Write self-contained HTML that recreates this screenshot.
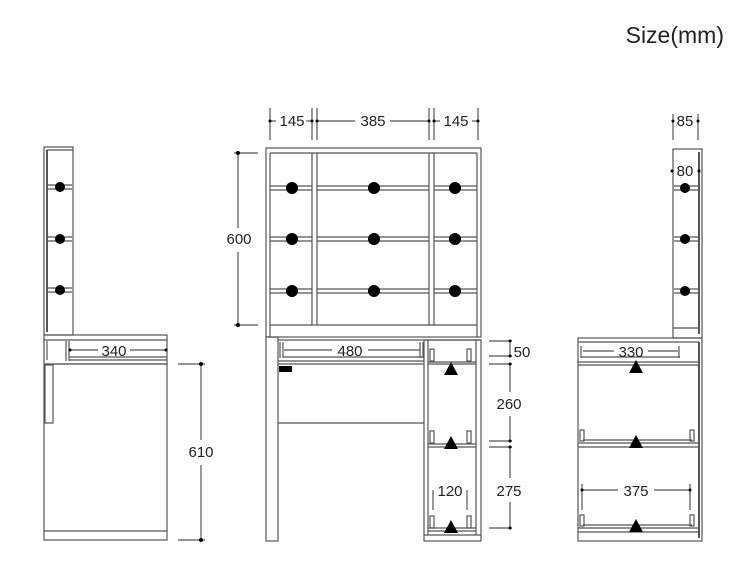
<!DOCTYPE html>
<html><head><meta charset="utf-8"><style>
html,body{margin:0;padding:0;background:#fff;}
svg{display:block;}
text{font-family:"Liberation Sans",Arial,sans-serif;fill:#222;}
</style></head><body>
<svg width="750" height="562" viewBox="0 0 750 562" xmlns="http://www.w3.org/2000/svg">
<text x="724" y="43" font-size="23" text-anchor="end">Size(mm)</text>
<g fill="none" stroke="#555" stroke-width="1.2">
<!-- LEFT SIDE VIEW -->
<rect x="44" y="147" width="29" height="188"/>
<line x1="47" y1="150" x2="47" y2="332" stroke-width="2"/>
<line x1="47" y1="150" x2="73" y2="150"/>
<line x1="48" y1="185" x2="72" y2="185"/><line x1="48" y1="189" x2="72" y2="189"/>
<line x1="48" y1="237" x2="72" y2="237"/><line x1="48" y1="241" x2="72" y2="241"/>
<line x1="48" y1="288" x2="72" y2="288"/><line x1="48" y1="292" x2="72" y2="292"/>
<rect x="44" y="335" width="123" height="29"/>
<line x1="44" y1="340" x2="167" y2="340"/>
<line x1="47" y1="341" x2="47" y2="360"/>
<line x1="66" y1="341" x2="66" y2="361"/><line x1="69" y1="341" x2="69" y2="361"/>
<line x1="69" y1="357" x2="167" y2="357"/><line x1="69" y1="360" x2="167" y2="360"/>
<rect x="44" y="364" width="123" height="176"/>
<line x1="44" y1="531" x2="167" y2="531"/>
<rect x="45" y="365" width="8" height="58"/>
<line x1="70" y1="350" x2="98" y2="350"/><line x1="130" y1="350" x2="166" y2="350"/>
<line x1="178" y1="364" x2="205" y2="364"/><line x1="178" y1="540" x2="205" y2="540"/>
<line x1="201" y1="364" x2="201" y2="440"/><line x1="201" y1="465" x2="201" y2="540"/>

<!-- FRONT VIEW -->
<rect x="266" y="148" width="215" height="189"/>
<line x1="270" y1="153" x2="270" y2="337"/><line x1="477" y1="153" x2="477" y2="337"/>
<line x1="270" y1="153" x2="477" y2="153"/>
<line x1="270" y1="325" x2="477" y2="325"/>
<line x1="312" y1="153" x2="312" y2="325"/><line x1="317" y1="153" x2="317" y2="325"/>
<line x1="429" y1="153" x2="429" y2="325"/><line x1="434" y1="153" x2="434" y2="325"/>
<g>
<line x1="270" y1="186" x2="312" y2="186"/><line x1="270" y1="190" x2="312" y2="190"/>
<line x1="317" y1="186" x2="429" y2="186"/><line x1="317" y1="190" x2="429" y2="190"/>
<line x1="434" y1="186" x2="477" y2="186"/><line x1="434" y1="190" x2="477" y2="190"/>
<line x1="270" y1="237" x2="312" y2="237"/><line x1="270" y1="241" x2="312" y2="241"/>
<line x1="317" y1="237" x2="429" y2="237"/><line x1="317" y1="241" x2="429" y2="241"/>
<line x1="434" y1="237" x2="477" y2="237"/><line x1="434" y1="241" x2="477" y2="241"/>
<line x1="270" y1="289" x2="312" y2="289"/><line x1="270" y1="293" x2="312" y2="293"/>
<line x1="317" y1="289" x2="429" y2="289"/><line x1="317" y1="293" x2="429" y2="293"/>
<line x1="434" y1="289" x2="477" y2="289"/><line x1="434" y1="293" x2="477" y2="293"/>
</g>
<!-- desk -->
<rect x="266" y="337" width="12" height="204"/>
<line x1="278" y1="340" x2="481" y2="340"/>
<line x1="280" y1="342" x2="280" y2="358"/><line x1="283" y1="342" x2="283" y2="358"/>
<line x1="420" y1="342" x2="420" y2="358"/><line x1="423" y1="342" x2="423" y2="358"/>
<line x1="283" y1="357" x2="423" y2="357"/><line x1="278" y1="361" x2="424" y2="361"/><line x1="278" y1="364" x2="424" y2="364"/>
<line x1="278" y1="423" x2="424" y2="423"/>
<rect x="424" y="340" width="57" height="201"/>
<line x1="428" y1="340" x2="428" y2="535"/><line x1="476" y1="340" x2="476" y2="535"/>
<line x1="424" y1="535" x2="481" y2="535"/>
<line x1="428" y1="362" x2="476" y2="362"/><line x1="428" y1="364" x2="476" y2="364"/>
<line x1="428" y1="444" x2="476" y2="444"/><line x1="428" y1="447" x2="476" y2="447"/>
<line x1="428" y1="528" x2="476" y2="528"/><line x1="428" y1="531" x2="476" y2="531"/>
<rect x="430" y="349" width="4" height="12"/><rect x="467" y="349" width="4" height="12"/>
<rect x="430" y="431" width="4" height="12"/><rect x="467" y="431" width="4" height="12"/>
<rect x="430" y="516" width="4" height="12"/><rect x="467" y="516" width="4" height="12"/>
<line x1="433" y1="490" x2="433" y2="510"/><line x1="467" y1="490" x2="467" y2="510"/>
<!-- front dims -->
<line x1="270" y1="108" x2="270" y2="140"/><line x1="312" y1="108" x2="312" y2="140"/><line x1="317" y1="108" x2="317" y2="140"/>
<line x1="429" y1="108" x2="429" y2="140"/><line x1="434" y1="108" x2="434" y2="140"/><line x1="478" y1="108" x2="478" y2="140"/>
<line x1="270" y1="121" x2="276" y2="121"/><line x1="306" y1="121" x2="312" y2="121"/>
<line x1="317" y1="121" x2="355" y2="121"/><line x1="390" y1="121" x2="429" y2="121"/>
<line x1="434" y1="121" x2="440" y2="121"/><line x1="472" y1="121" x2="478" y2="121"/>
<line x1="234" y1="153" x2="258" y2="153"/><line x1="234" y1="325" x2="258" y2="325"/>
<line x1="238" y1="153" x2="238" y2="228"/><line x1="238" y1="252" x2="238" y2="325"/>
<line x1="284" y1="350" x2="332" y2="350"/><line x1="368" y1="350" x2="420" y2="350"/>
<line x1="489" y1="341" x2="512" y2="341"/><line x1="489" y1="356" x2="512" y2="356"/>
<line x1="489" y1="364" x2="512" y2="364"/><line x1="489" y1="441" x2="512" y2="441"/>
<line x1="489" y1="447" x2="512" y2="447"/><line x1="489" y1="528" x2="512" y2="528"/>
<line x1="510" y1="341" x2="510" y2="356"/>
<line x1="510" y1="364" x2="510" y2="392"/><line x1="510" y1="416" x2="510" y2="441"/>
<line x1="510" y1="447" x2="510" y2="478"/><line x1="510" y1="502" x2="510" y2="528"/>

<!-- RIGHT SIDE VIEW -->
<rect x="673" y="149" width="29" height="189"/>
<line x1="699" y1="152" x2="699" y2="334" stroke-width="2"/>
<line x1="673" y1="328" x2="699" y2="328"/>
<line x1="674" y1="186" x2="698" y2="186"/><line x1="674" y1="190" x2="698" y2="190"/>
<line x1="674" y1="237" x2="698" y2="237"/><line x1="674" y1="241" x2="698" y2="241"/>
<line x1="674" y1="289" x2="698" y2="289"/><line x1="674" y1="293" x2="698" y2="293"/>
<rect x="578" y="338" width="124" height="203"/>
<line x1="699" y1="342" x2="699" y2="538" stroke-width="2"/>
<line x1="578" y1="342" x2="699" y2="342"/>
<line x1="578" y1="362" x2="699" y2="362"/><line x1="578" y1="365" x2="699" y2="365"/>
<line x1="581" y1="357" x2="680" y2="357"/><line x1="581" y1="346" x2="581" y2="358"/><line x1="679" y1="346" x2="679" y2="358"/>
<line x1="578" y1="443" x2="699" y2="443"/><line x1="578" y1="447" x2="699" y2="447"/>
<line x1="583" y1="440" x2="692" y2="440"/>
<rect x="580" y="430" width="4" height="11"/><rect x="690" y="430" width="4" height="11"/>
<line x1="578" y1="528" x2="699" y2="528"/><line x1="578" y1="532" x2="699" y2="532"/>
<line x1="583" y1="525" x2="692" y2="525"/>
<rect x="580" y="515" width="4" height="11"/><rect x="690" y="515" width="4" height="11"/>
<line x1="582" y1="484" x2="582" y2="510"/><line x1="690" y1="484" x2="690" y2="510"/>
<line x1="582" y1="490" x2="618" y2="490"/><line x1="654" y1="490" x2="690" y2="490"/>
<line x1="583" y1="351" x2="614" y2="351"/><line x1="648" y1="351" x2="678" y2="351"/>
<line x1="673" y1="114" x2="673" y2="140"/><line x1="698" y1="114" x2="698" y2="140"/>
</g>
<!-- dots -->
<g fill="#000">
<circle cx="60" cy="187" r="5"/><circle cx="60" cy="239" r="5"/><circle cx="60" cy="290" r="5"/>
<circle cx="292" cy="188" r="6"/><circle cx="374" cy="188" r="6"/><circle cx="455" cy="188" r="6"/>
<circle cx="292" cy="239" r="6"/><circle cx="374" cy="239" r="6"/><circle cx="455" cy="239" r="6"/>
<circle cx="292" cy="291" r="6"/><circle cx="374" cy="291" r="6"/><circle cx="455" cy="291" r="6"/>
<circle cx="685" cy="188" r="5"/><circle cx="685" cy="239" r="5"/><circle cx="685" cy="291" r="5"/>
<rect x="279" y="366" width="13" height="6"/>
<polygon points="451,362 444,375 458,375"/>
<polygon points="451,436 444,449 458,449"/>
<polygon points="451,520 444,533 458,533"/>
<polygon points="636,360 629,373 643,373"/>
<polygon points="636,435 629,448 643,448"/>
<polygon points="636,519 629,532 643,532"/>
<circle cx="270" cy="121" r="1.5"/><circle cx="312" cy="121" r="1.5"/><circle cx="317" cy="121" r="1.5"/>
<circle cx="429" cy="121" r="1.5"/><circle cx="434" cy="121" r="1.5"/><circle cx="478" cy="121" r="1.5"/>
<circle cx="238" cy="153" r="2"/><circle cx="238" cy="325" r="2"/>
<circle cx="201" cy="364" r="2"/><circle cx="201" cy="540" r="2"/>
<circle cx="510" cy="341" r="1.5"/><circle cx="510" cy="356" r="1.5"/><circle cx="510" cy="364" r="1.5"/>
<circle cx="510" cy="441" r="1.5"/><circle cx="510" cy="447" r="1.5"/><circle cx="510" cy="528" r="1.5"/>
<circle cx="673" cy="121" r="1.5"/><circle cx="698" cy="121" r="1.5"/>
<circle cx="672" cy="171" r="1.5"/><circle cx="699" cy="171" r="1.5"/>
<circle cx="582" cy="490" r="1.5"/><circle cx="690" cy="490" r="1.5"/>
<circle cx="70" cy="350" r="1.5"/><circle cx="166" cy="350" r="1.5"/>
</g>
<g font-size="15">
<text x="292" y="126" text-anchor="middle">145</text>
<text x="373" y="126" text-anchor="middle">385</text>
<text x="456" y="126" text-anchor="middle">145</text>
<text x="239" y="244" text-anchor="middle">600</text>
<text x="350" y="356" text-anchor="middle">480</text>
<text x="114" y="356" text-anchor="middle">340</text>
<text x="201" y="457" text-anchor="middle">610</text>
<text x="522" y="357" text-anchor="middle">50</text>
<text x="509" y="409" text-anchor="middle">260</text>
<text x="509" y="496" text-anchor="middle">275</text>
<text x="450" y="496" text-anchor="middle">120</text>
<text x="685" y="126" text-anchor="middle">85</text>
<text x="685" y="176" text-anchor="middle">80</text>
<text x="631" y="357" text-anchor="middle">330</text>
<text x="636" y="496" text-anchor="middle">375</text>
</g>
</svg>
</body></html>
